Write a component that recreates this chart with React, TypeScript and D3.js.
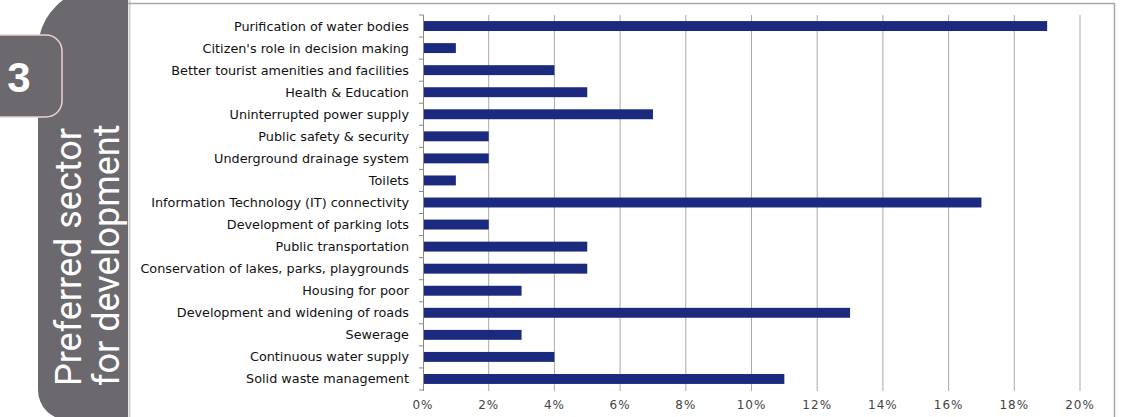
import React from "react";
import * as d3 from "d3";

const categories = [
  "Purification of water bodies",
  "Citizen's role in decision making",
  "Better tourist amenities and facilities",
  "Health & Education",
  "Uninterrupted power  supply",
  "Public safety & security",
  "Underground drainage system",
  "Toilets",
  "Information Technology (IT) connectivity",
  "Development of parking lots",
  "Public transportation",
  "Conservation of lakes, parks, playgrounds",
  "Housing for poor",
  "Development and widening of roads",
  "Sewerage",
  "Continuous water supply",
  "Solid waste management",
];
const values = [19, 1, 4, 5, 7, 2, 2, 1, 17, 2, 5, 5, 3, 13, 3, 4, 11];
const xTicks = [0, 2, 4, 6, 8, 10, 12, 14, 16, 18, 20];
const panelTitleLines = ["Preferred sector", "for development"];
const badgeNumber = "3";

const W = 1141;
const H = 417;
const PANEL = "#6b696e";
const BAR = "#1b2a7e";
const GRID = "#a9a9a9";

export default function App() {
  const x = d3.scaleLinear().domain([0, 20]).range([423, 1080]);
  const y = d3
    .scaleBand<string>()
    .domain(categories)
    .range([15, 390])
    .paddingInner(0.55)
    .paddingOuter(0.275);
  const step = y.step();
  const boundaries = d3.range(categories.length + 1).map((i) => 15 + i * step);
  const labelFont = "'DejaVu Sans', sans-serif";

  return (
    <div style={{ position: "absolute", left: 0, top: 0 }}>
      <svg width={W} height={H} style={{ display: "block" }}>
        <rect x={0} y={0} width={W} height={H} fill="#ffffff" />
        {/* left panel */}
        <path
          d={`M 128 -5 L 71 -5 A 62 62 0 0 0 38 55 L 38 390 A 30 30 0 0 0 68 420 L 128 420 Z`}
          fill={PANEL}
        />
        <line x1={129.5} x2={129.5} y1={0} y2={H} stroke="#cfcfcf" strokeWidth={2} />
        <rect x={-20} y={35} width={82} height={82} rx={16} fill={PANEL} stroke="#ecd0d8" strokeWidth={1.5} />
        <text
          x={19}
          y={92}
          textAnchor="middle"
          fill="#ffffff"
          fontFamily="'Liberation Sans', Arial, sans-serif"
          fontWeight="bold"
          fontSize={42}
        >
          {badgeNumber}
        </text>
        {panelTitleLines.map((t, i) => (
          <text
            key={t}
            transform={`translate(${81 + i * 38},386) rotate(-90)`}
            fill="#ffffff"
            fontFamily="Roboto, 'Open Sans', sans-serif"
            fontSize={36}
            textAnchor="start"
          >
            {t}
          </text>
        ))}
        {/* frame */}
        <line x1={128} x2={1114.5} y1={3.5} y2={3.5} stroke={GRID} strokeWidth={1.5} />
        <line x1={1114.5} x2={1114.5} y1={3} y2={H} stroke={GRID} strokeWidth={1.5} />
        {/* gridlines */}
        {xTicks.slice(1).map((t) => (
          <line key={`g${t}`} x1={x(t)} x2={x(t)} y1={15} y2={391} stroke={GRID} strokeWidth={1} />
        ))}
        {/* bars */}
        {categories.map((c, i) => (
          <rect
            key={c}
            x={x(0)}
            y={y(c)!}
            width={x(values[i]) - x(0)}
            height={y.bandwidth()}
            fill={BAR}
          />
        ))}
        {/* y axis */}
        <line x1={423.5} x2={423.5} y1={15} y2={391} stroke="#888" strokeWidth={1} />
        {boundaries.map((b, i) => (
          <line key={`t${i}`} x1={419} x2={423.5} y1={b} y2={b} stroke="#888" strokeWidth={1} />
        ))}
        {/* category labels */}
        {categories.map((c) => (
          <text
            key={`l${c}`}
            x={409}
            y={y(c)! + y.bandwidth() / 2}
            dy="0.35em"
            textAnchor="end"
            fontFamily={labelFont}
            fontSize={12.8}
            fill="#111"
          >
            {c}
          </text>
        ))}
        {/* x tick labels */}
        {xTicks.map((t) => (
          <text
            key={`x${t}`}
            x={x(t)}
            y={405}
            dy="0.35em"
            textAnchor="middle"
            fontFamily={labelFont}
            fontSize={12}
            fill="#444"
            letterSpacing={1}
          >
            {`${t}%`}
          </text>
        ))}
      </svg>
    </div>
  );
}
